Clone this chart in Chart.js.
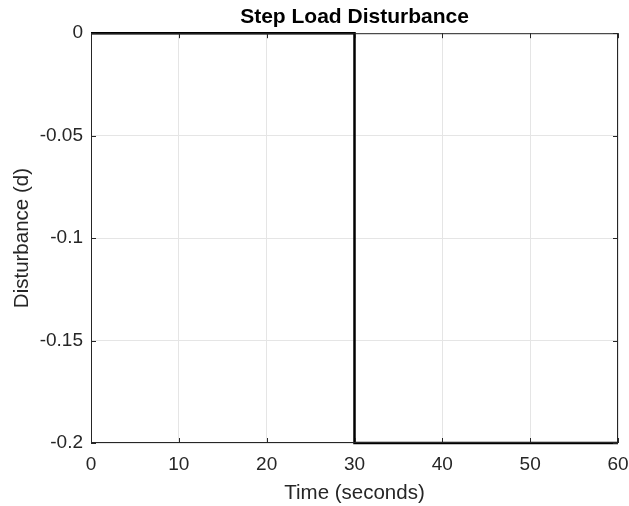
<!DOCTYPE html>
<html>
<head>
<meta charset="utf-8">
<script src="https://cdn.jsdelivr.net/npm/chart.js@4"></script>
<style>
  html, body { margin: 0; padding: 0; background: #fff; }
  #wrap { width: 629px; height: 506px; }
</style>
</head>
<body>
<div id="wrap"><canvas id="chart" width="629" height="506"></canvas></div>
<script>
// step load disturbance: 0 until t = 30 s, then -0.2
const timeSec = [0, 30, 30, 60];
const disturbance = [0, 0, -0.2, -0.2];
const xTicks = [0, 10, 20, 30, 40, 50, 60];
const yTicks = [0, -0.05, -0.1, -0.15, -0.2];

const font = '"Liberation Sans", Arial, sans-serif';
const frameColor = '#262626';

// MATLAB-like box: frame on all four sides plus short inward ticks
const boxPlugin = {
    id: 'box',
    afterDatasetsDraw(chart) {
        const { ctx, chartArea: a, scales } = chart;
        ctx.save();
        ctx.strokeStyle = frameColor;
        ctx.lineWidth = 1;
        ctx.strokeRect(a.left + 0.5, a.top + 0.5, a.right - a.left - 1, a.bottom - a.top - 1);
        const len = 5;
        ctx.beginPath();
        xTicks.forEach(v => {
            const x = Math.round(scales.x.getPixelForValue(v)) + 0.5;
            ctx.moveTo(x, a.bottom); ctx.lineTo(x, a.bottom - len);
            ctx.moveTo(x, a.top); ctx.lineTo(x, a.top + len);
        });
        yTicks.forEach(v => {
            const y = Math.round(scales.y.getPixelForValue(v)) + 0.5;
            ctx.moveTo(a.left, y); ctx.lineTo(a.left + len, y);
            ctx.moveTo(a.right, y); ctx.lineTo(a.right - len, y);
        });
        ctx.stroke();
        ctx.restore();
    }
};

new Chart(document.getElementById('chart'), {
    type: 'line',
    data: {
        datasets: [{
            data: timeSec.map((t, i) => ({ x: t, y: disturbance[i] })),
            borderColor: '#000',
            borderWidth: 2.5,
            pointRadius: 0,
            tension: 0,
            clip: false
        }]
    },
    options: {
        responsive: false,
        animation: false,
        layout: { padding: { left: 0, right: 11, top: 0, bottom: 0 } },
        plugins: {
            legend: { display: false },
            tooltip: { enabled: false },
            title: {
                display: true,
                text: 'Step Load Disturbance',
                color: '#000',
                fullSize: false,
                font: { family: font, size: 21, weight: 'bold', lineHeight: 1.2 },
                padding: { top: 5, bottom: 3 }
            }
        },
        scales: {
            x: {
                type: 'linear',
                min: 0,
                max: 60,
                afterBuildTicks: s => { s.ticks = xTicks.map(v => ({ value: v })); },
                afterFit: s => { s.height = 63; s.paddingLeft = 0; s.paddingRight = 0; },
                grid: { color: '#e5e5e5', drawTicks: false },
                border: { display: false },
                ticks: {
                    color: '#262626',
                    padding: 10,
                    maxRotation: 0,
                    font: { family: font, size: 19 }
                },
                title: {
                    display: true,
                    text: 'Time (seconds)',
                    color: '#262626',
                    font: { family: font, size: 20.5 },
                    padding: { top: 2, bottom: 0 }
                }
            },
            y: {
                type: 'linear',
                min: -0.2,
                max: 0,
                afterBuildTicks: s => { s.ticks = yTicks.map(v => ({ value: v })); },
                afterFit: s => { s.width = 91; s.paddingTop = 0; s.paddingBottom = 0; },
                grid: { color: '#e5e5e5', drawTicks: false },
                border: { display: false },
                ticks: {
                    color: '#262626',
                    padding: 8,
                    font: { family: font, size: 19 },
                    callback: v => String(Math.round(v * 100) / 100)
                },
                title: {
                    display: true,
                    text: 'Disturbance (d)',
                    color: '#262626',
                    font: { family: font, size: 20.5 },
                    padding: { top: 10, bottom: 4 }
                }
            }
        }
    },
    plugins: [boxPlugin]
});
</script>
</body>
</html>
